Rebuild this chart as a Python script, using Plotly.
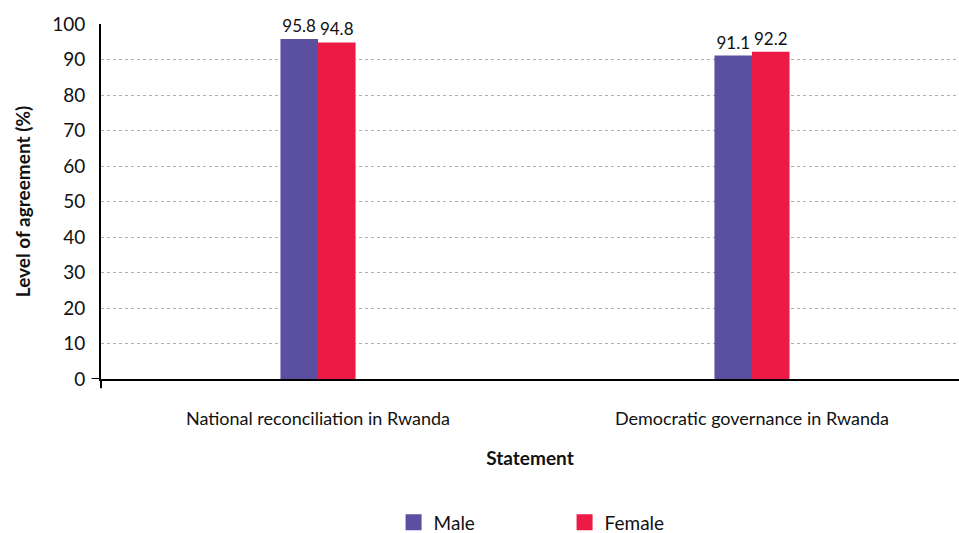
import plotly.graph_objects as go

# Share of respondents agreeing with each statement, by sex
statements = ["National reconciliation in Rwanda", "Democratic governance in Rwanda"]
male = [95.8, 91.1]
female = [94.8, 92.2]
y_ticks = [0, 10, 20, 30, 40, 50, 60, 70, 80, 90, 100]

FONT = "Lato, Liberation Sans, sans-serif"
MALE_COLOR = "#5B4FA0"
FEMALE_COLOR = "#EE1A46"

fig = go.Figure()
for name, vals, color in [("Male", male, MALE_COLOR), ("Female", female, FEMALE_COLOR)]:
    fig.add_trace(go.Bar(
        name=name, x=statements, y=vals, marker_color=color,
        marker_line_width=0, showlegend=False, legendgroup=name,
        text=[f"{v:.1f}" for v in vals], textposition="outside",
        textfont=dict(size=17, color="#111111"), cliponaxis=False,
    ))
# legend entries drawn as larger square swatches
for name, color in [("Male", MALE_COLOR), ("Female", FEMALE_COLOR)]:
    fig.add_trace(go.Scatter(
        name=name, x=[None], y=[None], mode="markers", legendgroup=name,
        marker=dict(symbol="square", size=17, color=color),
    ))

fig.update_layout(
    width=959, height=533,
    margin=dict(l=101, r=0, t=24, b=154, autoexpand=False),
    paper_bgcolor="white", plot_bgcolor="white",
    font=dict(family=FONT, size=18, color="#111111"),
    barmode="group", bargap=0.827, bargroupgap=0,
    uniformtext=dict(minsize=17, mode="show"),
    legend=dict(
        orientation="h", x=0.341, xanchor="left",
        yref="container", y=0.02, yanchor="middle",
        font=dict(size=19), itemwidth=30, entrywidth=126,
        traceorder="normal", itemsizing="trace",
    ),
    xaxis=dict(
        range=[-0.5, 1.477], showgrid=False, showline=True, automargin=False,
        linecolor="black", linewidth=2, ticks="",
        tickfont=dict(size=18), ticklabelstandoff=22,
        title=dict(text="<b>Statement</b>", font=dict(size=19), standoff=24),
    ),
    yaxis=dict(
        range=[0, 100], tickvals=y_ticks, showgrid=True, automargin=False,
        gridcolor="#B0B0B0", griddash="3px,3px", gridwidth=1,
        showline=True, linecolor="black", linewidth=2, zeroline=False,
        ticks="", tickfont=dict(size=19), ticklabelstandoff=10,
        title=dict(text="<b>Level of agreement (%)</b>", font=dict(size=19), standoff=16),
    ),
)

# small cross-shaped tick at the origin
fig.add_shape(type="line", xref="paper", yref="y", x0=-0.011, x1=0, y0=0, y1=0,
              line=dict(color="black", width=2))
fig.add_shape(type="line", xref="paper", yref="paper", x0=0, x1=0, y0=0, y1=-0.026,
              line=dict(color="black", width=2))

fig.write_html("out.html")
